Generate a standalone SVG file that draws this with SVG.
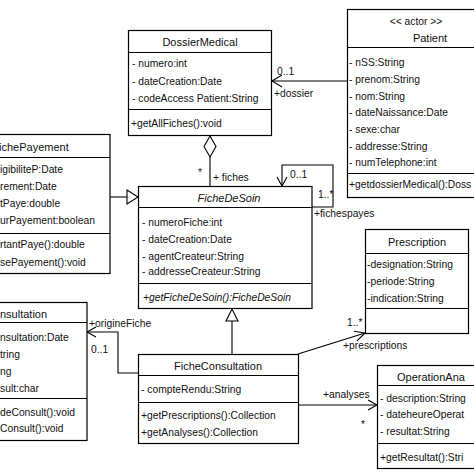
<svg xmlns="http://www.w3.org/2000/svg" width="474" height="474" viewBox="0 0 474 474">
<style>
.box{fill:#fff;stroke:#000;stroke-width:1.2}
.sep{stroke:#000;stroke-width:1.2}
.t{font-family:"Liberation Sans",Arial,sans-serif;font-size:10.3px;fill:#111}
.ti{font-family:"Liberation Sans",Arial,sans-serif;font-size:11px;fill:#111}
.c{text-anchor:middle}
.it{font-style:italic}
.ln{fill:none;stroke:#000;stroke-width:1.1}
.hd{fill:#fff;stroke:#000;stroke-width:1.1}
</style>
<rect width="474" height="474" fill="#fff"/>
<g id="connectors">
  <path class="ln" d="M210,157 V186"/>
  <polygon class="hd" points="210,136 216,146.5 210,157 204,146.5"/>
  <text class="t" x="198" y="176">*</text>
  <text class="t" x="213" y="181">+ fiches</text>
  <path class="ln" d="M272,81 H347"/>
  <path class="ln" d="M282,75 L272,81 L282,87"/>
  <text class="t" x="277" y="75">0..1</text>
  <text class="t" x="274" y="97">+dossier</text>
  <path class="ln" d="M110,197 H127"/>
  <polygon class="hd" points="127,190 138,197 127,204"/>
  <path class="ln" d="M282,186 V165 H333 V207 H312"/>
  <path class="ln" d="M277,177 L282,186 L287,177"/>
  <text class="t" x="290" y="178">0..1</text>
  <text class="t" x="318" y="198">1..*</text>
  <text class="t" x="314" y="217">+fichespayes</text>
  <path class="ln" d="M232,321 V354"/>
  <polygon class="hd" points="232,309 226,321 238,321"/>
  <path class="ln" d="M298,354 L365,333"/>
  <path class="ln" d="M357,340.8 L365,333 L354,331.2"/>
  <text class="t" x="347" y="326">1..*</text>
  <text class="t" x="343" y="349">+prescriptions</text>
  <path class="ln" d="M138,373 H118 V332 H87"/>
  <path class="ln" d="M96,327 L87,332 L96,337"/>
  <text class="t" x="89" y="327">+origineFiche</text>
  <text class="t" x="91" y="353">0..1</text>
  <path class="ln" d="M298,405 H377"/>
  <path class="ln" d="M368,400 L377,405 L368,410"/>
  <text class="t" x="323" y="398">+analyses</text>
  <text class="t" x="361" y="428">*</text>
</g>
<g id="DossierMedical">
  <rect class="box" x="128.5" y="30.5" width="143" height="105"/>
  <line class="sep" x1="128.5" y1="52.5" x2="271.5" y2="52.5"/>
  <line class="sep" x1="128.5" y1="109.5" x2="271.5" y2="109.5"/>
  <text class="ti c" x="200" y="46">DossierMedical</text>
  <text class="t" x="132" y="67">- numero:int</text>
  <text class="t" x="132" y="85">- dateCreation:Date</text>
  <text class="t" x="132" y="102">- codeAccess Patient:String</text>
  <text class="t" x="131" y="127">+getAllFiches():void</text>
</g>
<g id="Patient">
  <rect class="box" x="347.5" y="9.5" width="140" height="188"/>
  <line class="sep" x1="347.5" y1="47.5" x2="487.5" y2="47.5"/>
  <line class="sep" x1="347.5" y1="173.5" x2="487.5" y2="173.5"/>
  <text class="t c" x="416" y="25">&lt;&lt; actor &gt;&gt;</text>
  <text class="ti c" x="430" y="42">Patient</text>
  <text class="t" x="349" y="66">- nSS:String</text>
  <text class="t" x="349" y="83">- prenom:String</text>
  <text class="t" x="349" y="100">- nom:String</text>
  <text class="t" x="349" y="116">- dateNaissance:Date</text>
  <text class="t" x="349" y="133">- sexe:char</text>
  <text class="t" x="349" y="150">- addresse:String</text>
  <text class="t" x="349" y="166">- numTelephone:int</text>
  <text class="t" x="349" y="188">+getdossierMedical():Doss</text>
</g>
<g id="FichePayement">
  <rect class="box" x="-10" y="134.5" width="120" height="139"/>
  <line class="sep" x1="-10" y1="157.5" x2="110" y2="157.5"/>
  <line class="sep" x1="-10" y1="233.5" x2="110" y2="233.5"/>
  <text class="ti" x="-1" y="151">ichePayement</text>
  <text class="t" x="0" y="173">igibiliteP:Date</text>
  <text class="t" x="0" y="190">rement:Date</text>
  <text class="t" x="0" y="207">tPaye:double</text>
  <text class="t" x="0" y="224">urPayement:boolean</text>
  <text class="t" x="0" y="248">rtantPaye():double</text>
  <text class="t" x="0" y="266">sePayement():void</text>
</g>
<g id="FicheDeSoin">
  <rect class="box" x="138.5" y="186.5" width="173.5" height="122"/>
  <line class="sep" x1="138.5" y1="207.5" x2="312" y2="207.5"/>
  <line class="sep" x1="138.5" y1="283.5" x2="312" y2="283.5"/>
  <text class="ti c it" x="229" y="202">FicheDeSoin</text>
  <text class="t" x="142" y="226">- numeroFiche:int</text>
  <text class="t" x="142" y="243">- dateCreation:Date</text>
  <text class="t" x="142" y="260">- agentCreateur:String</text>
  <text class="t" x="142" y="275">- addresseCreateur:String</text>
  <text class="t it" x="143" y="301">+getFicheDeSoin():FicheDeSoin</text>
</g>
<g id="Prescription">
  <rect class="box" x="365.5" y="229.5" width="103" height="104"/>
  <line class="sep" x1="365.5" y1="253.5" x2="468.5" y2="253.5"/>
  <line class="sep" x1="365.5" y1="308.5" x2="468.5" y2="308.5"/>
  <text class="ti c" x="417" y="246">Prescription</text>
  <text class="t" x="367" y="268">-designation:String</text>
  <text class="t" x="367" y="285">-periode:String</text>
  <text class="t" x="367" y="302">-indication:String</text>
</g>
<g id="Consultation">
  <rect class="box" x="-10" y="302.5" width="97" height="138"/>
  <line class="sep" x1="-10" y1="322.5" x2="87" y2="322.5"/>
  <line class="sep" x1="-10" y1="398.5" x2="87" y2="398.5"/>
  <text class="ti" x="0" y="318">nsultation</text>
  <text class="t" x="0" y="341">nsultation:Date</text>
  <text class="t" x="0" y="358">tring</text>
  <text class="t" x="0" y="375">ng</text>
  <text class="t" x="0" y="392">sult:char</text>
  <text class="t" x="0" y="416">deConsult():void</text>
  <text class="t" x="0" y="432">Consult():void</text>
</g>
<g id="FicheConsultation">
  <rect class="box" x="138.5" y="354.5" width="160" height="89"/>
  <line class="sep" x1="138.5" y1="375.5" x2="298.5" y2="375.5"/>
  <line class="sep" x1="138.5" y1="402.5" x2="298.5" y2="402.5"/>
  <text class="ti c" x="218" y="370">FicheConsultation</text>
  <text class="t" x="141" y="393">- compteRendu:String</text>
  <text class="t" x="141" y="419">+getPrescriptions():Collection</text>
  <text class="t" x="141" y="436">+getAnalyses():Collection</text>
</g>
<g id="OperationAnalyse">
  <rect class="box" x="377.5" y="365.5" width="110" height="103"/>
  <line class="sep" x1="377.5" y1="385.5" x2="487.5" y2="385.5"/>
  <line class="sep" x1="377.5" y1="443.5" x2="487.5" y2="443.5"/>
  <text class="ti" x="397" y="381">OperationAna</text>
  <text class="t" x="380" y="402">- description:String</text>
  <text class="t" x="380" y="418">- dateheureOperat</text>
  <text class="t" x="380" y="435">- resultat:String</text>
  <text class="t" x="380" y="461">+getResultat():Stri</text>
</g>
</svg>
